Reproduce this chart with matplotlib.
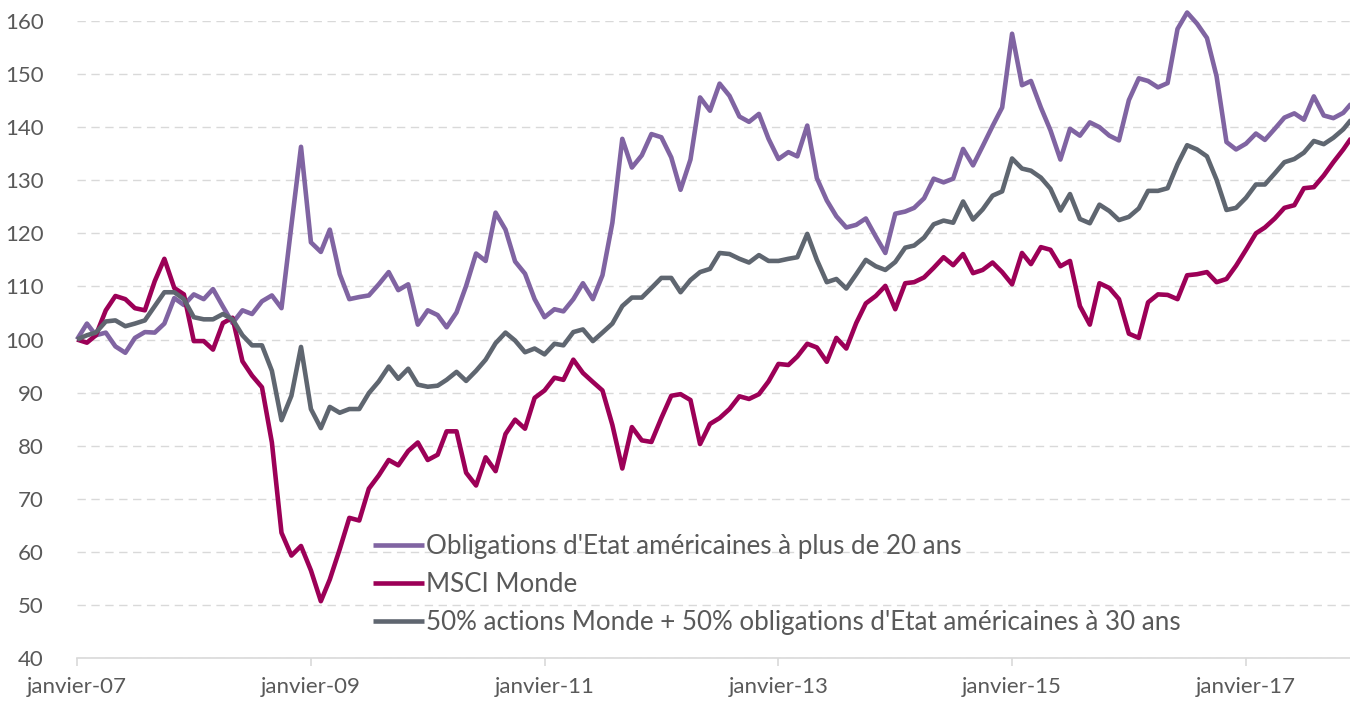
import numpy as np
import pandas as pd
import matplotlib
matplotlib.use("Agg")
import matplotlib.pyplot as plt
import matplotlib.dates as mdates

# monthly index values, base 100 in January 2007
dates = pd.date_range("2007-01-01", periods=132, freq="MS")

obligations = [
    100.0, 103.0, 100.8, 101.3, 98.7, 97.5, 100.3, 101.4, 101.3, 103.0,
    107.8, 106.5, 108.5, 107.6, 109.5, 106.2, 103.1, 105.5, 104.8, 107.2,
    108.3, 105.9, 121.5, 136.3, 118.3, 116.5, 120.7, 112.3, 107.6, 108.0,
    108.3, 110.4, 112.7, 109.3, 110.4, 102.8, 105.5, 104.6, 102.3, 105.1,
    110.1, 116.2, 114.8, 123.9, 120.7, 114.7, 112.4, 107.6, 104.2, 105.7,
    105.3, 107.6, 110.6, 107.6, 112.1, 122.0, 137.8, 132.4, 134.7, 138.7,
    138.1, 134.3, 128.2, 133.9, 145.6, 143.1, 148.2, 145.9, 142.0, 141.0,
    142.5, 137.8, 134.0, 135.3, 134.5, 140.3, 130.4, 126.2, 123.2, 121.1,
    121.6, 122.8, 119.4, 116.3, 123.7, 124.1, 124.8, 126.6, 130.3, 129.6,
    130.3, 135.9, 132.8, 136.4, 140.2, 143.7, 157.6, 147.9, 148.7, 143.7,
    139.4, 133.9, 139.7, 138.4, 140.9, 140.0, 138.4, 137.5, 145.1, 149.2,
    148.7, 147.5, 148.3, 158.5, 161.6, 159.5, 156.8, 149.6, 137.2, 135.8,
    136.9, 138.8, 137.6, 139.7, 141.8, 142.6, 141.4, 145.8, 142.2, 141.7,
    142.7, 144.8,
]

msci_monde = [
    100.0, 99.4, 100.8, 105.5, 108.2, 107.6, 105.9, 105.5, 111.0, 115.2,
    109.7, 108.5, 99.7, 99.7, 98.1, 103.1, 104.1, 95.9, 93.2, 91.0,
    80.6, 63.6, 59.3, 61.1, 56.5, 50.7, 54.8, 60.5, 66.4, 65.9,
    71.9, 74.4, 77.3, 76.3, 79.0, 80.6, 77.3, 78.3, 82.7, 82.7,
    74.9, 72.5, 77.8, 75.2, 82.2, 84.9, 83.2, 89.0, 90.4, 92.8,
    92.4, 96.2, 93.7, 92.0, 90.4, 83.9, 75.7, 83.5, 81.0, 80.7,
    85.2, 89.4, 89.7, 88.6, 80.3, 84.1, 85.2, 86.9, 89.3, 88.8,
    89.7, 92.1, 95.4, 95.2, 96.8, 99.2, 98.5, 95.8, 100.3, 98.3,
    103.1, 106.8, 108.2, 110.1, 105.7, 110.6, 110.8, 111.7, 113.5, 115.5,
    114.0, 116.1, 112.5, 113.1, 114.5, 112.7, 110.4, 116.3, 114.2, 117.4,
    116.9, 113.8, 114.8, 106.3, 102.8, 110.6, 109.7, 107.6, 101.1, 100.3,
    107.0, 108.5, 108.4, 107.6, 112.1, 112.3, 112.7, 110.8, 111.4, 113.9,
    116.9, 120.0, 121.1, 122.8, 124.8, 125.3, 128.5, 128.7, 130.9, 133.4,
    135.8, 138.4,
]

mix_50_50 = [
    100.0, 100.8, 101.3, 103.4, 103.6, 102.5, 103.0, 103.6, 106.3, 108.9,
    108.9, 107.6, 104.2, 103.8, 103.8, 104.8, 103.8, 100.8, 98.9, 98.9,
    94.1, 84.8, 89.4, 98.6, 86.9, 83.3, 87.3, 86.2, 86.9, 86.9,
    89.9, 92.1, 94.9, 92.6, 94.5, 91.5, 91.1, 91.3, 92.4, 93.9,
    92.2, 94.1, 96.2, 99.3, 101.3, 99.8, 97.6, 98.3, 97.2, 99.2,
    98.9, 101.4, 101.9, 99.7, 101.3, 103.0, 106.3, 107.9, 107.9, 109.7,
    111.6, 111.6, 108.9, 111.2, 112.7, 113.3, 116.3, 116.1, 115.2, 114.5,
    115.9, 114.8, 114.8, 115.2, 115.5, 119.9, 115.0, 110.8, 111.4, 109.6,
    112.3, 115.0, 113.8, 113.1, 114.6, 117.3, 117.7, 119.2, 121.7, 122.4,
    122.0, 126.0, 122.6, 124.5, 127.1, 127.9, 134.1, 132.2, 131.8, 130.5,
    128.4, 124.3, 127.4, 122.7, 121.9, 125.4, 124.2, 122.5, 123.1, 124.7,
    128.0, 128.0, 128.5, 133.0, 136.6, 135.8, 134.5, 130.1, 124.4, 124.8,
    126.7, 129.2, 129.2, 131.3, 133.4, 134.0, 135.2, 137.4, 136.8, 138.0,
    139.6, 141.8,
]

labels = [
    "Obligations d'Etat américaines à plus de 20 ans",
    "MSCI Monde",
    "50% actions Monde + 50% obligations d'Etat américaines à 30 ans",
]
colors = ["#8064A2", "#9C0057", "#5F6670"]
text_color = "#595959"

plt.rcParams["font.family"] = ["Lato", "DejaVu Sans"]

fig = plt.figure(figsize=(13.5, 7.04), dpi=100)
ax = fig.add_axes([77 / 1350, 1 - 658 / 704, 1 - 77 / 1350, (658 - 21) / 704])

for series, label, color in zip([obligations, msci_monde, mix_50_50], labels, colors):
    ax.plot(dates, series, color=color, lw=3.3, label=label, clip_on=False,
            solid_joinstyle="round", solid_capstyle="butt")

ax.set_ylim(40, 160)
ax.set_yticks(np.arange(40, 161, 10))
ax.set_xlim(pd.Timestamp("2007-01-01"), pd.Timestamp("2017-11-22"))

tick_dates = pd.date_range("2007-01-01", "2017-01-01", freq="24MS")
ax.set_xticks(tick_dates)
ax.xaxis.set_major_formatter(mdates.DateFormatter("janvier-%y"))

ax.grid(axis="y", color="#D9D9D9", lw=1.0, linestyle=(0, (6, 4)))
ax.set_axisbelow(True)
for side in ["top", "right", "left"]:
    ax.spines[side].set_visible(False)
ax.spines["bottom"].set_color("#D9D9D9")
ax.spines["bottom"].set_linewidth(1.2)

ax.tick_params(axis="y", length=0, pad=24, labelsize=16, labelcolor=text_color)
ax.tick_params(axis="x", length=6, width=1.2, color="#D9D9D9", pad=8,
               labelsize=16, labelcolor=text_color)

leg = ax.legend(loc="upper left", bbox_to_anchor=(373 / 1350, 1 - 534 / 704),
                bbox_transform=fig.transFigure, frameon=False, fontsize=18.7,
                handlelength=1.95, handletextpad=0.08, labelspacing=0.5,
                borderpad=0, borderaxespad=0)
for t in leg.get_texts():
    t.set_color(text_color)
for h in leg.get_lines():
    h.set_linewidth(3.3)

fig.savefig("out.png", dpi=100)
